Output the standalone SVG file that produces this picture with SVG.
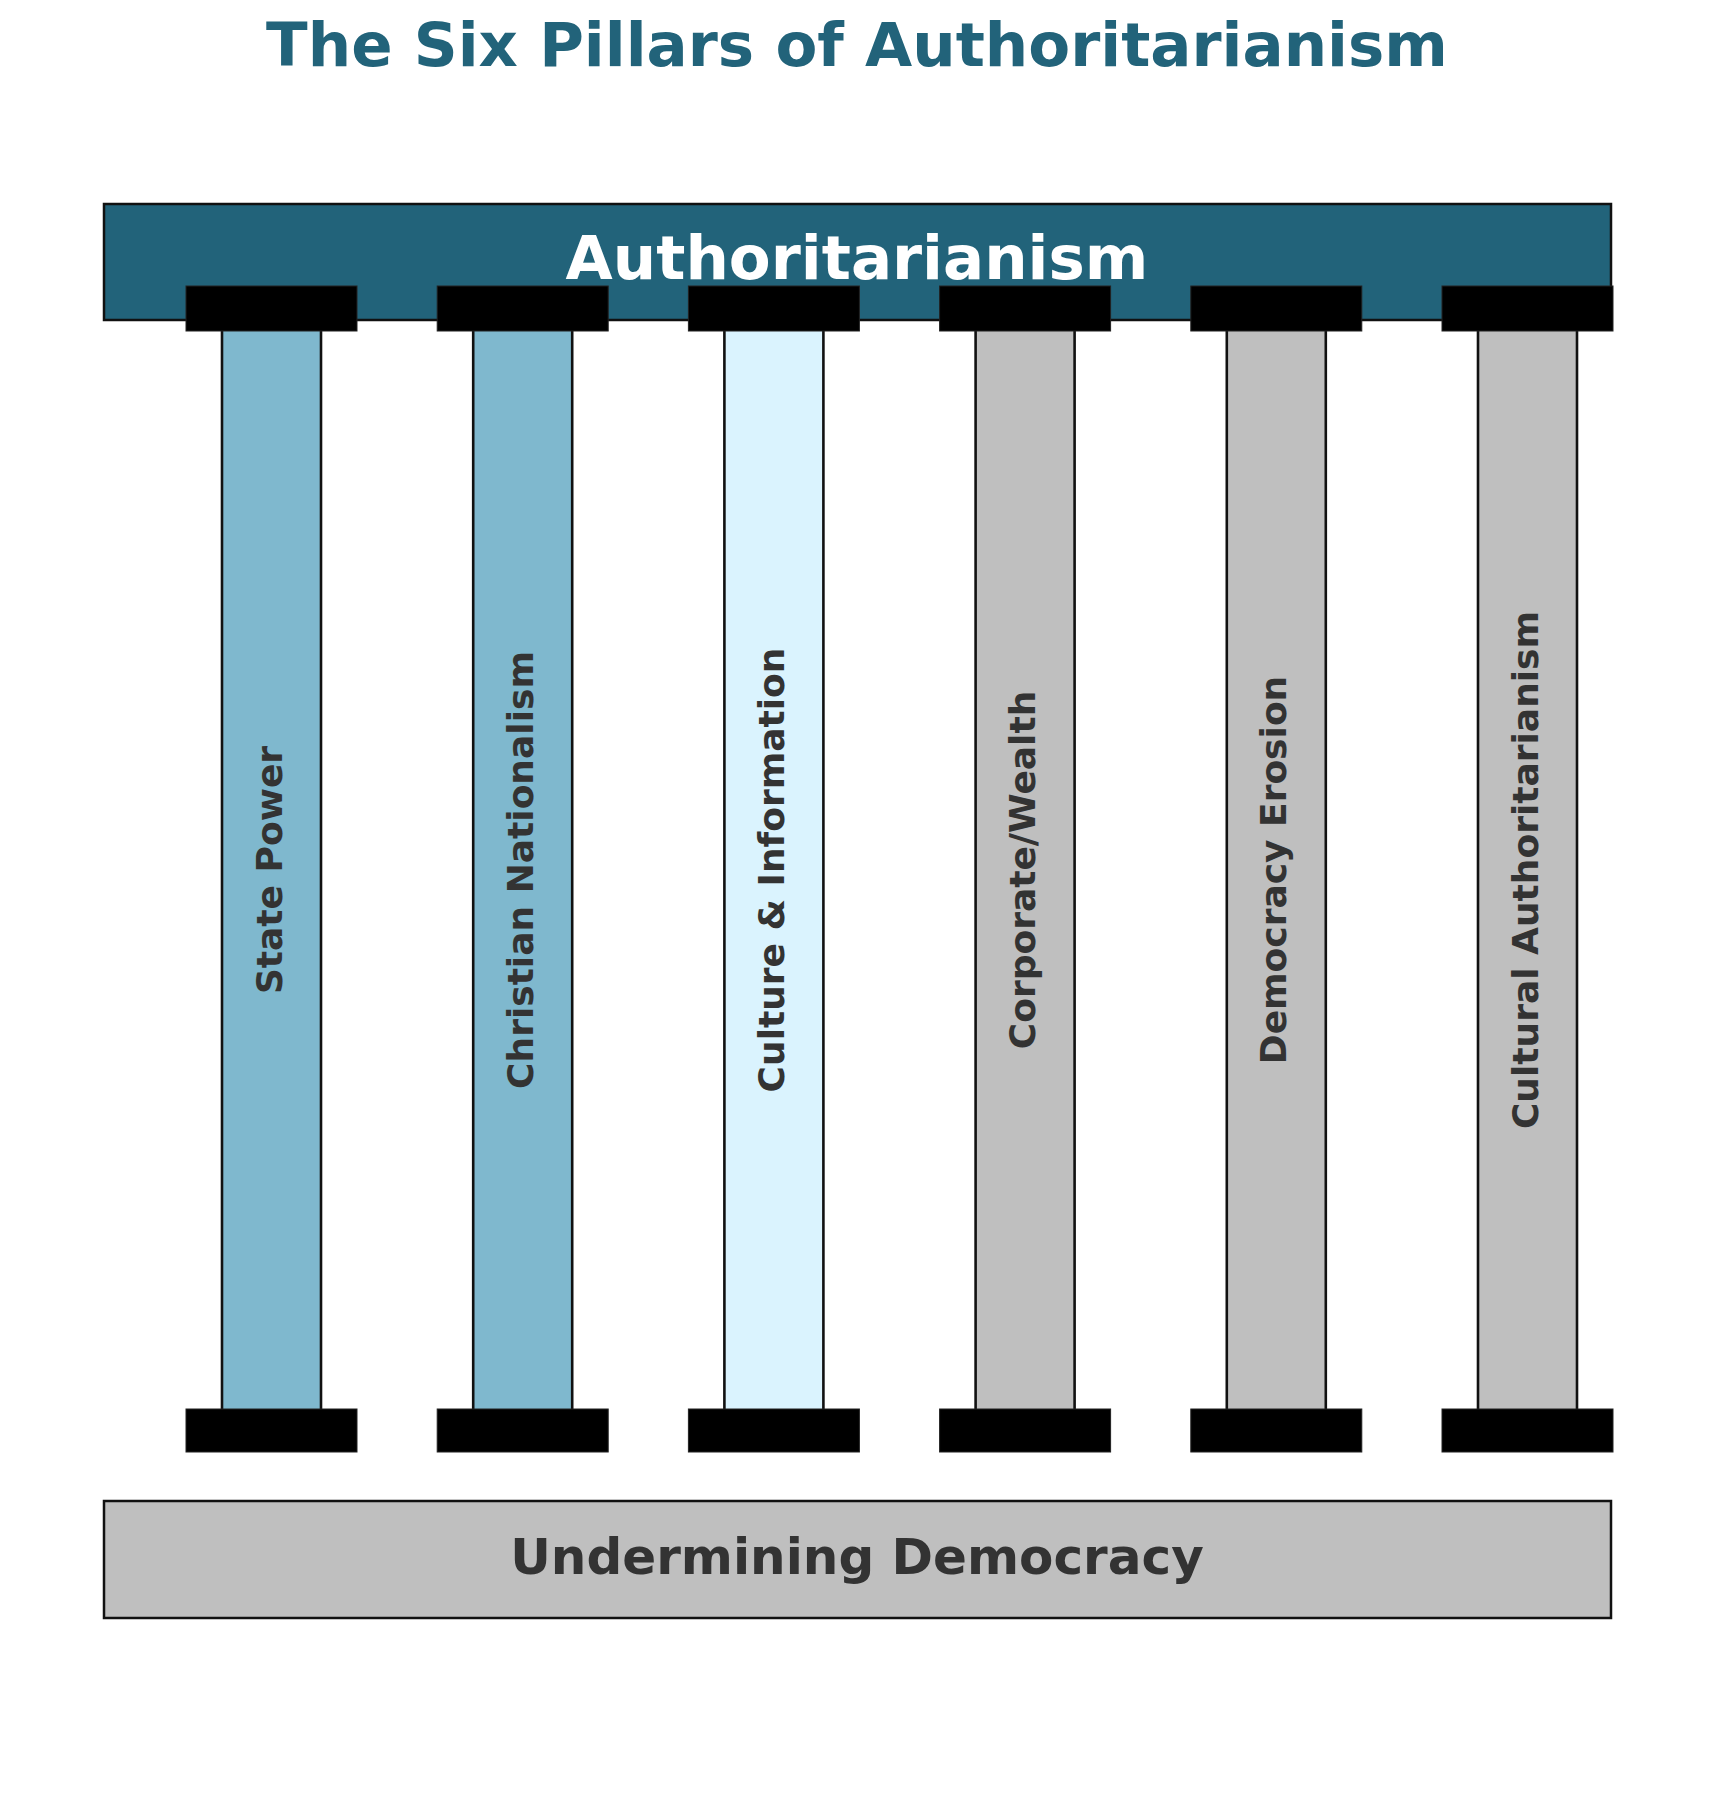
<svg xmlns="http://www.w3.org/2000/svg" width="1714" height="1804" viewBox="0 0 1714 1804">
<style>
text { font-family: "DejaVu Sans", "Liberation Sans", sans-serif; font-weight: bold; }
.title { font-size: 61px; fill: #22637a; text-anchor: middle; }
.bar { stroke: #111; stroke-width: 2.5; }
.cap { fill: #000; stroke: #222; stroke-width: 1; }
.shaft { stroke: #111; stroke-width: 2.6; }
.plabel { font-size: 36px; fill: #333; text-anchor: middle; }
.blue { fill: #7fb8ce; }
.cyan { fill: #daf3fe; }
.gray { fill: #bfbfbf; }
</style>
<rect width="1714" height="1804" fill="#fff"/>
<text class="title" x="857" y="66">The Six Pillars of Authoritarianism</text>
<g id="roof">
<rect class="bar" x="104" y="204" width="1507" height="116" fill="#22637a"/>
<text x="857" y="279" style="font-size:61px;fill:#fff;text-anchor:middle">Authoritarianism</text>
</g>
<g id="pillar1">
<rect class="shaft blue" x="222" y="325" width="99" height="1090"/>
<rect class="cap" x="186" y="286" width="171" height="45"/>
<rect class="cap" x="186" y="1409" width="171" height="43"/>
<text class="plabel" transform="translate(281.5,870) rotate(-90)">State Power</text>
</g>
<g id="pillar2">
<rect class="shaft blue" x="473.2" y="325" width="99" height="1090"/>
<rect class="cap" x="437.2" y="286" width="171" height="45"/>
<rect class="cap" x="437.2" y="1409" width="171" height="43"/>
<text class="plabel" transform="translate(532.7,870) rotate(-90)">Christian Nationalism</text>
</g>
<g id="pillar3">
<rect class="shaft cyan" x="724.4" y="325" width="99" height="1090"/>
<rect class="cap" x="688.4" y="286" width="171" height="45"/>
<rect class="cap" x="688.4" y="1409" width="171" height="43"/>
<text class="plabel" transform="translate(783.9,870) rotate(-90)">Culture &amp; Information</text>
</g>
<g id="pillar4">
<rect class="shaft gray" x="975.6" y="325" width="99" height="1090"/>
<rect class="cap" x="939.6" y="286" width="171" height="45"/>
<rect class="cap" x="939.6" y="1409" width="171" height="43"/>
<text class="plabel" transform="translate(1035.1,870) rotate(-90)">Corporate/Wealth</text>
</g>
<g id="pillar5">
<rect class="shaft gray" x="1226.8" y="325" width="99" height="1090"/>
<rect class="cap" x="1190.8" y="286" width="171" height="45"/>
<rect class="cap" x="1190.8" y="1409" width="171" height="43"/>
<text class="plabel" transform="translate(1286.3,870) rotate(-90)">Democracy Erosion</text>
</g>
<g id="pillar6">
<rect class="shaft gray" x="1478" y="325" width="99" height="1090"/>
<rect class="cap" x="1442" y="286" width="171" height="45"/>
<rect class="cap" x="1442" y="1409" width="171" height="43"/>
<text class="plabel" transform="translate(1537.5,870) rotate(-90)">Cultural Authoritarianism</text>
</g>
<g id="base">
<rect class="bar gray" x="104" y="1501" width="1507" height="117"/>
<text x="857" y="1574" style="font-size:50px;fill:#333;text-anchor:middle">Undermining Democracy</text>
</g>
<g id="connectors"></g>
</svg>
